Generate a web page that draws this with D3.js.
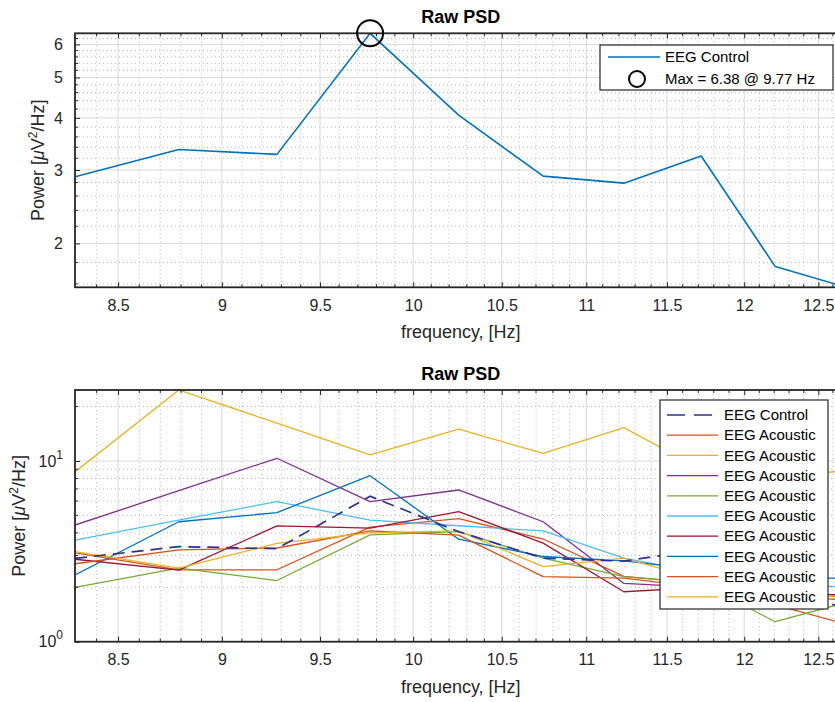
<!DOCTYPE html>
<html>
<head>
<meta charset="utf-8">
<script src="https://cdn.jsdelivr.net/npm/d3@7"></script>
<style>
  body { margin: 0; background: #fff; }
  svg { display: block; font-family: "Liberation Sans", Arial, Helvetica, sans-serif; }
</style>
</head>
<body>
<svg id="chart" width="835" height="702"></svg>
<script>
// Frequency bins (Hz) of the PSD estimate
const freq = [8.3008, 8.7891, 9.2773, 9.7656, 10.2539, 10.7422, 11.2305, 11.7188, 12.2070, 12.6953];

// Power spectral density, µV²/Hz
const control    = [2.89, 3.36, 3.27, 6.38, 4.06, 2.90, 2.79, 3.24, 1.76, 1.57];
const acoustic1  = [3.10, 2.50, 2.50, 4.30, 4.80, 3.70, 2.30, 2.10, 1.60, 1.25];
const acoustic2  = [8.70, 24.7, 16.2, 10.8, 15.0, 11.0, 15.3, 9.00, 8.30, 8.80];
const acoustic3  = [4.42, 6.85, 10.35, 5.96, 6.91, 4.61, 2.10, 2.00, 1.90, 1.80];
const acoustic4  = [2.00, 2.55, 2.18, 3.90, 4.06, 2.90, 2.29, 2.10, 1.29, 1.65];
const acoustic5  = [3.65, 4.70, 5.96, 4.71, 4.38, 4.10, 2.90, 2.40, 2.10, 2.00];
const acoustic6  = [2.86, 2.49, 4.37, 4.25, 5.24, 3.51, 1.89, 2.00, 1.90, 1.80];
const acoustic7  = [2.34, 4.61, 5.18, 8.29, 3.69, 2.96, 2.80, 2.50, 2.25, 2.25];
const acoustic8  = [2.70, 3.22, 3.30, 4.10, 3.89, 2.29, 2.25, 2.00, 1.80, 1.70];
const acoustic9  = [3.15, 2.55, 3.50, 4.00, 4.10, 2.60, 2.90, 2.20, 1.90, 1.75];

const acousticSeries = [acoustic1, acoustic2, acoustic3, acoustic4, acoustic5,
                        acoustic6, acoustic7, acoustic8, acoustic9];
const acousticColors = ["#D95319", "#EDB120", "#7E2F8E", "#77AC30", "#4DBEEE",
                        "#A2142F", "#0072BD", "#D95319", "#EDB120"];
const controlDashColor = "#2e3092";

const titleText = "Raw PSD";
const xLabelText = "frequency, [Hz]";
const controlName = "EEG Control";
const acousticName = "EEG Acoustic";

const xTicks = [8.5, 9, 9.5, 10, 10.5, 11, 11.5, 12, 12.5];
const xMinorTicks = d3.range(84, 127).map(d => d / 10).filter(v => !xTicks.includes(v));
const topYTicks = [2, 3, 4, 5, 6];
const topYMinor = d3.range(16, 64, 2).map(d => d / 10).filter(v => !topYTicks.includes(v));
const botYTicks = [1, 10];
const botYMinor = [2, 3, 4, 5, 6, 7, 8, 9, 20];

const svg = d3.select("#chart");
const left = 75, right = 846.5;
const x = d3.scaleLog().domain(d3.extent(freq)).range([left, right]);

const axisColor = "#262626";
const fontTick = 16, fontLabel = 18, fontTitle = 18, fontLegend = 15;

function drawPanel(cfg) {
  const { top, bottom, y, yTicks, yMinor, id } = cfg;
  const g = svg.append("g");

  g.append("clipPath").attr("id", id)
    .append("rect").attr("x", left).attr("y", top)
    .attr("width", right - left).attr("height", bottom - top);

  // minor grid (dotted)
  const minor = g.append("g").attr("stroke", "#b8b8b8").attr("stroke-width", 1)
    .attr("stroke-dasharray", "1,3");
  minor.selectAll(".vx").data(xMinorTicks).join("line")
    .attr("x1", d => x(d)).attr("x2", d => x(d)).attr("y1", top).attr("y2", bottom);
  minor.selectAll(".hy").data(yMinor).join("line")
    .attr("x1", left).attr("x2", right).attr("y1", d => y(d)).attr("y2", d => y(d));

  // major grid
  const major = g.append("g").attr("stroke", "#d9d9d9").attr("stroke-width", 1);
  major.selectAll(".vx").data(xTicks).join("line")
    .attr("x1", d => x(d)).attr("x2", d => x(d)).attr("y1", top).attr("y2", bottom);
  major.selectAll(".hy").data(yTicks).join("line")
    .attr("x1", left).attr("x2", right).attr("y1", d => y(d)).attr("y2", d => y(d));

  const plot = g.append("g").attr("clip-path", `url(#${id})`);

  // axes box + ticks
  const axes = g.append("g").attr("class", "axes");
  const bottomAxis = d3.axisBottom(x).tickValues(xTicks).tickFormat(d3.format("")).tickSizeInner(-5).tickSizeOuter(0).tickPadding(12);
  const topAxis = d3.axisTop(x).tickValues(xTicks).tickFormat("").tickSizeInner(-5).tickSizeOuter(0);
  const leftAxis = d3.axisLeft(y).tickValues(yTicks).tickSizeInner(-5).tickSizeOuter(0).tickPadding(12);
  const rightAxis = d3.axisRight(y).tickValues(yTicks).tickFormat("").tickSizeInner(-5).tickSizeOuter(0);

  const styleAxis = sel => {
    sel.select(".domain").remove();
    sel.selectAll(".tick line").attr("stroke", axisColor).attr("stroke-width", 1);
    sel.selectAll(".tick text").attr("fill", axisColor).attr("font-size", fontTick)
      .attr("font-family", "Liberation Sans, Arial, sans-serif");
  };
  axes.append("g").attr("transform", `translate(0,${bottom})`).call(bottomAxis).call(styleAxis);
  axes.append("g").attr("transform", `translate(0,${top})`).call(topAxis).call(styleAxis);
  const la = axes.append("g").attr("transform", `translate(${left},0)`).call(leftAxis).call(styleAxis);
  axes.append("g").attr("transform", `translate(${right},0)`).call(rightAxis).call(styleAxis);

  // minor ticks
  const mt = axes.append("g").attr("stroke", axisColor).attr("stroke-width", 1);
  xMinorTicks.forEach(v => {
    mt.append("line").attr("x1", x(v)).attr("x2", x(v)).attr("y1", bottom).attr("y2", bottom - 3);
    mt.append("line").attr("x1", x(v)).attr("x2", x(v)).attr("y1", top).attr("y2", top + 3);
  });
  yMinor.forEach(v => {
    mt.append("line").attr("x1", left).attr("x2", left + 3).attr("y1", y(v)).attr("y2", y(v));
    mt.append("line").attr("x1", right).attr("x2", right - 3).attr("y1", y(v)).attr("y2", y(v));
  });

  axes.append("rect").attr("x", left).attr("y", top)
    .attr("width", right - left).attr("height", bottom - top)
    .attr("fill", "none").attr("stroke", axisColor).attr("stroke-width", 1.8);

  // title
  g.append("text").attr("x", (left + right) / 2).attr("y", top - 10)
    .attr("text-anchor", "middle").attr("font-size", fontTitle).attr("font-weight", "bold")
    .attr("fill", "#000").text(titleText);

  // x label
  g.append("text").attr("x", (left + right) / 2).attr("y", bottom + 51)
    .attr("text-anchor", "middle").attr("font-size", fontLabel).attr("fill", axisColor)
    .text(xLabelText);

  // y label
  const yl = g.append("text")
    .attr("transform", `translate(${cfg.yLabelX},${(top + bottom) / 2}) rotate(-90)`)
    .attr("text-anchor", "middle").attr("font-size", fontLabel).attr("fill", axisColor);
  yl.append("tspan").text("Power [");
  yl.append("tspan").attr("font-style", "italic").text("\u03BC");
  yl.append("tspan").text("V");
  yl.append("tspan").attr("font-size", 12).attr("dy", -7).text("2");
  yl.append("tspan").attr("dy", 7).text("/Hz]");

  return { g, plot, leftAxis: la };
}

// ---------- top panel: control only ----------
const yTop = d3.scaleLog().domain(d3.extent(control)).range([287.3, 33.3]);
const topPanel = drawPanel({ top: 33.3, bottom: 287.3, y: yTop, yTicks: topYTicks, yMinor: topYMinor, id: "clipTop", yLabelX: 44 });

const lineTop = d3.line().x((d, i) => x(freq[i])).y(d => yTop(d));
topPanel.plot.append("path").datum(control)
  .attr("fill", "none").attr("stroke", "#0072BD").attr("stroke-width", 1.6)
  .attr("stroke-linejoin", "round").attr("d", lineTop);

// maximum marker
const maxVal = d3.max(control);
const maxIdx = control.indexOf(maxVal);
topPanel.g.append("circle")
  .attr("cx", x(freq[maxIdx])).attr("cy", yTop(maxVal)).attr("r", 13)
  .attr("fill", "none").attr("stroke", "#000").attr("stroke-width", 2);

// top legend
{
  const bx = right - 246.5, by = 45, bw = 233, bh = 45;
  const lg = topPanel.g.append("g");
  lg.append("rect").attr("x", bx).attr("y", by).attr("width", bw).attr("height", bh)
    .attr("fill", "#fff").attr("stroke", axisColor).attr("stroke-width", 1.2);
  lg.append("line").attr("x1", bx + 8).attr("x2", bx + 60).attr("y1", by + 12).attr("y2", by + 12)
    .attr("stroke", "#0072BD").attr("stroke-width", 1.6);
  lg.append("text").attr("x", bx + 65).attr("y", by + 12).attr("dy", "0.35em")
    .attr("font-size", fontLegend).attr("fill", "#000").text(controlName);
  lg.append("circle").attr("cx", bx + 37).attr("cy", by + 34).attr("r", 8)
    .attr("fill", "none").attr("stroke", "#000").attr("stroke-width", 2);
  lg.append("text").attr("x", bx + 65).attr("y", by + 34).attr("dy", "0.35em")
    .attr("font-size", fontLegend).attr("fill", "#000")
    .text(`Max = ${maxVal.toFixed(2)} @ ${freq[maxIdx].toFixed(2)} Hz`);
}

// ---------- bottom panel: control vs acoustic ----------
const allVals = [control, ...acousticSeries].flat();
const yBot = d3.scaleLog().domain([1, d3.max(allVals)]).range([641.7, 390]);
const botPanel = drawPanel({ top: 390, bottom: 641.7, y: yBot, yTicks: botYTicks, yMinor: botYMinor, id: "clipBot", yLabelX: 25 });

// power-of-ten tick labels
botPanel.leftAxis.selectAll(".tick text").each(function (d) {
  const t = d3.select(this).text("");
  t.append("tspan").text("10");
  t.append("tspan").attr("font-size", 12).attr("dy", -8).text(Math.round(Math.log10(d)));
});

const lineBot = d3.line().x((d, i) => x(freq[i])).y(d => yBot(d));
acousticSeries.forEach((s, i) => {
  botPanel.plot.append("path").datum(s)
    .attr("fill", "none").attr("stroke", acousticColors[i]).attr("stroke-width", 1.3)
    .attr("stroke-linejoin", "round").attr("d", lineBot);
});
// control drawn over the acoustic traces
botPanel.plot.append("path").datum(control)
  .attr("fill", "none").attr("stroke", controlDashColor).attr("stroke-width", 1.7)
  .attr("stroke-dasharray", "12,7").attr("d", lineBot);

// bottom legend
{
  const entries = [{ name: controlName, color: controlDashColor, dash: "18,9" }]
    .concat(acousticSeries.map((s, i) => ({ name: acousticName, color: acousticColors[i], dash: null })));
  const bx = right - 186.5, by = 400, bw = 168, bh = 209;
  const lg = botPanel.g.append("g");
  lg.append("rect").attr("x", bx).attr("y", by).attr("width", bw).attr("height", bh)
    .attr("fill", "#fff").attr("stroke", axisColor).attr("stroke-width", 1.2);
  entries.forEach((e, i) => {
    const cy = by + 15 + i * 20.2;
    lg.append("line").attr("x1", bx + 7).attr("x2", bx + 58).attr("y1", cy).attr("y2", cy)
      .attr("stroke", e.color).attr("stroke-width", e.dash ? 1.7 : 1.3)
      .attr("stroke-dasharray", e.dash);
    lg.append("text").attr("x", bx + 64).attr("y", cy).attr("dy", "0.35em")
      .attr("font-size", fontLegend).attr("fill", "#000").text(e.name);
  });
}
</script>
</body>
</html>
